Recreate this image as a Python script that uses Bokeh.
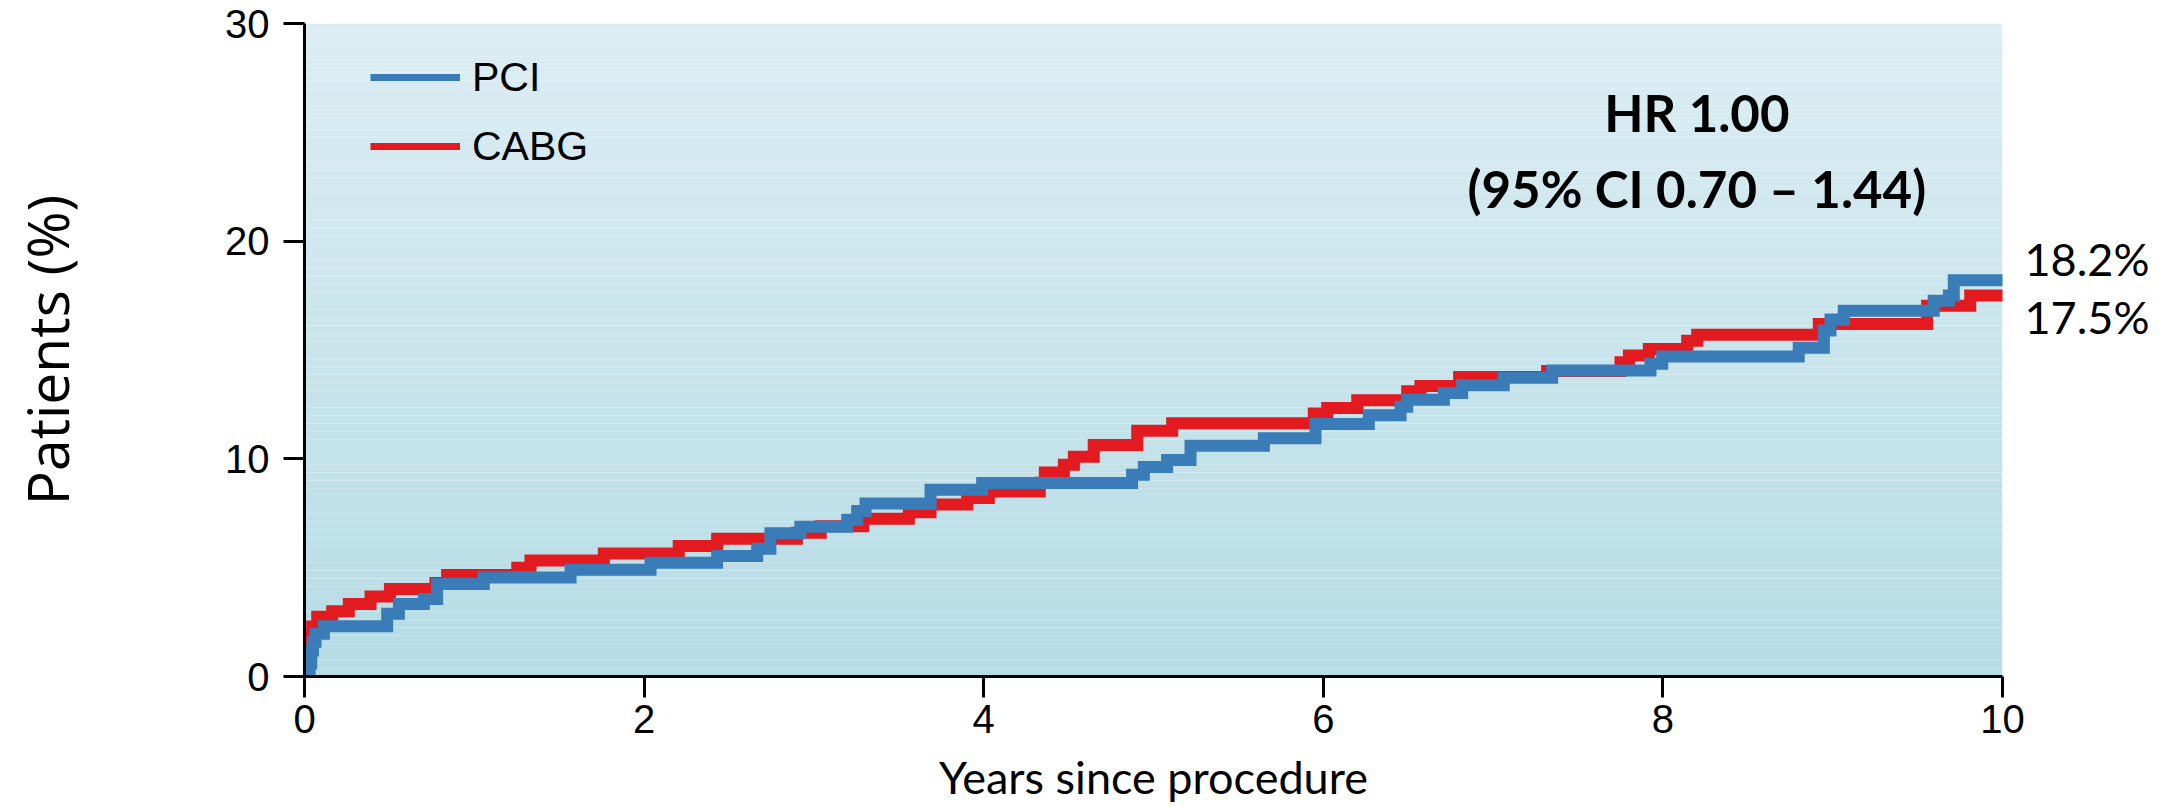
from bokeh.plotting import figure
from bokeh.models import Range1d, Legend, LegendItem, Label, LinearAxis, FixedTicker
from bokeh.embed import file_html
from bokeh.resources import INLINE
import numpy as np

# ---------------- data ----------------
years_pci = [0.0, 0.03, 0.04, 0.05, 0.065, 0.114, 0.487, 0.556, 0.703, 0.781, 1.056, 1.567,
             2.038, 2.43, 2.666, 2.744, 2.92, 3.196, 3.255, 3.304, 3.687, 3.991, 4.874, 4.943,
             5.08, 5.218, 5.65, 5.954, 6.268, 6.455, 6.494, 6.71, 6.818, 7.063, 7.348, 7.927,
             7.996, 8.80, 8.948, 8.987, 9.065, 9.595, 9.684, 9.713, 10.0]
pct_pci = [0.0, 0.6, 1.2, 1.6, 1.96, 2.31, 2.88, 3.33, 3.56, 4.25, 4.55, 4.9,
           5.23, 5.54, 5.87, 6.58, 6.88, 7.2, 7.6, 7.95, 8.58, 8.89, 9.27, 9.62,
           9.95, 10.6, 10.94, 11.6, 12.0, 12.39, 12.72, 13.03, 13.38, 13.73, 14.06, 14.37,
           14.7, 15.1, 15.9, 16.4, 16.8, 17.26, 17.5, 18.2, 18.2]

years_cabg = [0.0, 0.01, 0.02, 0.03, 0.045, 0.075, 0.163, 0.261, 0.389, 0.503, 0.771, 0.84,
              1.253, 1.331, 1.763, 2.204, 2.43, 2.90, 3.04, 3.29, 3.559, 3.687, 3.903, 4.03,
              4.33, 4.36, 4.472, 4.531, 4.648, 4.904, 5.11, 5.944, 6.023, 6.2, 6.494, 6.572,
              6.80, 7.318, 7.75, 7.8, 7.917, 8.143, 8.202, 8.918, 9.556, 9.81, 10.0]
pct_cabg = [0.0, 0.7, 1.4, 1.9, 2.3, 2.74, 3.0, 3.33, 3.68, 4.02, 4.3, 4.66,
            5.0, 5.33, 5.65, 6.0, 6.33, 6.6, 6.9, 7.25, 7.55, 7.9, 8.2, 8.5,
            8.9, 9.37, 9.73, 10.1, 10.64, 11.29, 11.63, 12.08, 12.34, 12.69, 13.1, 13.35,
            13.76, 14.03, 14.44, 14.75, 15.05, 15.43, 15.7, 16.2, 17.03, 17.5, 17.5]

series_names = ["PCI", "CABG"]
final_labels = ["18.2%", "17.5%"]
x_ticks = [0, 2, 4, 6, 8, 10]
y_ticks = [0, 10, 20, 30]
hr_line1 = "HR 1.00"
hr_line2 = "(95% CI 0.70 \u2013 1.44)"
x_title = "Years since procedure"
y_title = "Patients (%)"

# ---------------- styling ----------------
BLUE = "#3a7cb8"
RED = "#e31a1f"
TICK_FONT = "Liberation Sans"
TEXT_FONT = "Lato"

X0, X1 = 0, 10
Y0, Y1 = 0, 30
FRAME_H = 655
PX_PER_UNIT = FRAME_H / (Y1 - Y0)

p = figure(width=2176, height=806,
           x_range=Range1d(X0, X1), y_range=Range1d(Y0, Y1),
           output_backend="svg", toolbar_location=None,
           min_border_left=304, min_border_right=174,
           min_border_top=23, min_border_bottom=806 - 23 - FRAME_H)
p.outline_line_color = None
p.xgrid.visible = False
p.ygrid.visible = False
p.background_fill_color = "#ffffff"
p.border_fill_color = "#ffffff"

# vertical gradient background (light at top, deeper at bottom)
n_strips = 80
edges = np.linspace(Y0, Y1, n_strips + 1)
top_rgb = np.array([0xdc, 0xed, 0xf3])
bot_rgb = np.array([0xb6, 0xdc, 0xe5])
cols = []
for i in range(n_strips):
    t = (i + 0.5) / n_strips
    c = (bot_rgb * (1 - t) + top_rgb * t).round().astype(int)
    cols.append("#%02x%02x%02x" % tuple(c))
p.quad(left=[X0] * n_strips, right=[X1] * n_strips, bottom=edges[:-1], top=edges[1:],
       fill_color=cols, line_color=None)

# step curves
p.step(years_cabg, pct_cabg, mode="after", line_width=12, line_color=RED,
       line_join="miter", line_cap="round")
p.step(years_pci, pct_pci, mode="after", line_width=12, line_color=BLUE,
       line_join="miter", line_cap="round")

# legend (thinner sample lines; renderers hold no visible data)
leg_pci = p.line(x=[np.nan], y=[np.nan], line_width=7, line_color=BLUE)
leg_cabg = p.line(x=[np.nan], y=[np.nan], line_width=7, line_color=RED)
legend = Legend(items=[LegendItem(label=series_names[0], renderers=[leg_pci]),
                       LegendItem(label=series_names[1], renderers=[leg_cabg])],
                location=(66, 505), glyph_width=90, glyph_height=50, label_height=50,
                spacing=19, padding=0, margin=0, label_standoff=12,
                label_text_font=TICK_FONT, label_text_font_size="41px",
                label_text_color="black",
                background_fill_alpha=0, border_line_color=None)
p.add_layout(legend)

# HR annotation
p.add_layout(Label(x=8.2, y=25.9, text=hr_line1, text_align="center", text_baseline="middle",
                   text_font=TEXT_FONT, text_font_size="51px", text_font_style="bold",
                   text_color="black"))
p.add_layout(Label(x=8.2, y=22.4, text=hr_line2, text_align="center", text_baseline="middle",
                   text_font=TEXT_FONT, text_font_size="51px", text_font_style="bold",
                   text_color="black"))

# end-of-curve percentages, placed in the right margin via an unlined right axis
end_pos = [pct_pci[-1] + 21 / PX_PER_UNIT, pct_cabg[-1] - 21 / PX_PER_UNIT]
right_ax = LinearAxis(ticker=FixedTicker(ticks=end_pos),
                      major_label_overrides={end_pos[0]: final_labels[0],
                                             end_pos[1]: final_labels[1]},
                      axis_line_color=None, major_tick_line_color=None,
                      minor_tick_line_color=None, major_tick_out=0, major_tick_in=0,
                      major_label_standoff=22,
                      major_label_text_font=TEXT_FONT, major_label_text_font_size="45px",
                      major_label_text_color="black")
p.add_layout(right_ax, "right")

# axes
for ax in (p.xaxis[0], p.yaxis[0]):
    ax.axis_line_width = 3
    ax.axis_line_color = "black"
    ax.major_tick_line_width = 3
    ax.major_tick_line_color = "black"
    ax.major_tick_out = 21
    ax.major_tick_in = 0
    ax.minor_tick_line_color = None
    ax.major_label_text_font = TICK_FONT
    ax.major_label_text_font_size = "40px"
    ax.major_label_text_color = "black"
    ax.axis_label_text_color = "black"
    ax.axis_label_text_font_style = "normal"

p.xaxis[0].ticker = x_ticks
p.yaxis[0].ticker = y_ticks
p.xaxis[0].major_label_standoff = 7
p.yaxis[0].major_label_standoff = 14

p.xaxis[0].axis_label = x_title
p.xaxis[0].axis_label_text_font = TEXT_FONT
p.xaxis[0].axis_label_text_font_size = "45px"
p.xaxis[0].axis_label_standoff = 14

p.yaxis[0].axis_label = y_title
p.yaxis[0].axis_label_text_font = "Open Sans"
p.yaxis[0].axis_label_text_font_size = "57px"
p.yaxis[0].axis_label_standoff = 136

open("out.html", "w").write(file_html(p, INLINE))
